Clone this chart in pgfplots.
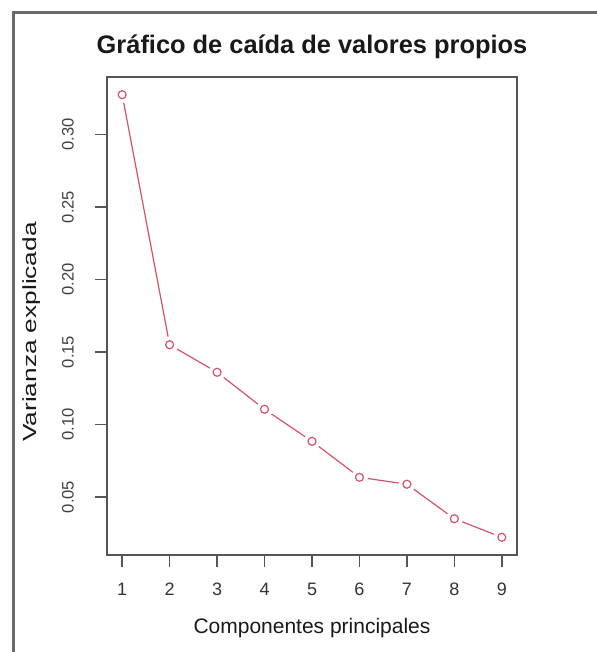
\documentclass[border=0pt]{standalone}
\usepackage{pgfplots}
\usepackage{pgfplotstable}
\pgfplotsset{compat=1.18}
\usepackage{fontspec}
\setmainfont{Liberation Sans}

\definecolor{rline}{RGB}{214,82,104}
\definecolor{framegray}{RGB}{105,105,105}
\definecolor{boxgray}{RGB}{85,85,85}

% varianza explicada por componente
\pgfplotstableread{
comp var
1 0.3275
2 0.1550
3 0.1360
4 0.1105
5 0.0884
6 0.0636
7 0.0588
8 0.0350
9 0.0222
}\vartable

\begin{document}
\begin{tikzpicture}
\useasboundingbox (0,0) rectangle (298.5pt,326pt);
% marco exterior de la captura
\draw[framegray, line width=1.5pt] (6.5pt,0) -- (6.5pt,319.5pt) -- (298.5pt,319.5pt);
\begin{axis}[
    at={(53.5pt,48.5pt)}, anchor=south west,
    scale only axis, width=205pt, height=239pt,
    xmin=0.68, xmax=9.32,
    ymin=0.0100, ymax=0.3397,
    axis line style={boxgray, line width=0.9pt},
    xtick={1,2,3,4,5,6,7,8,9},
    ytick={0.05,0.10,0.15,0.20,0.25,0.30},
    tick align=outside, major tick length=6pt,
    tick style={boxgray, line width=0.8pt},
    xtick pos=bottom, ytick pos=left,
    /pgf/number format/assume math mode=true,
    xticklabel style={anchor=center, font=\fontsize{9}{10}\selectfont, text=black!80},
    xticklabel shift=11.25pt,
    yticklabel style={/pgf/number format/.cd, fixed, fixed zerofill, precision=2, /tikz/.cd,
        rotate=90, anchor=center, font=\fontsize{8.3}{9}\selectfont, text=black!75},
    yticklabel shift=13.5pt,
    title={Gráfico de caída de valores propios},
    title style={at={(axis description cs:0.5,1.038)}, anchor=center, yshift=0pt,
        font=\bfseries\fontsize{12.7}{14}\selectfont, text=black!90},
    xlabel={Componentes principales},
    xlabel style={at={(axis description cs:0.5,-0.153)}, anchor=center,
        font=\fontsize{10.5}{12}\selectfont, text=black!90},
    ylabel={\scalebox{1.38}[1]{Varianza explicada}},
    ylabel style={at={(axis description cs:-0.183,0.4665)}, anchor=center, rotate=0,
        font=\fontsize{9.5}{11}\selectfont, text=black!90},
]
\addplot[rline, line width=0.6pt, no marks] table[x=comp, y=var] {\vartable};
% huecos blancos alrededor de los puntos (type = "b")
\addplot[only marks, white, mark=*, mark size=4pt, mark options={white}] table[x=comp, y=var] {\vartable};
\addplot[only marks, rline, mark=o, mark size=2pt, mark options={rline, line width=0.6pt}] table[x=comp, y=var] {\vartable};
\end{axis}
\end{tikzpicture}
\end{document}
